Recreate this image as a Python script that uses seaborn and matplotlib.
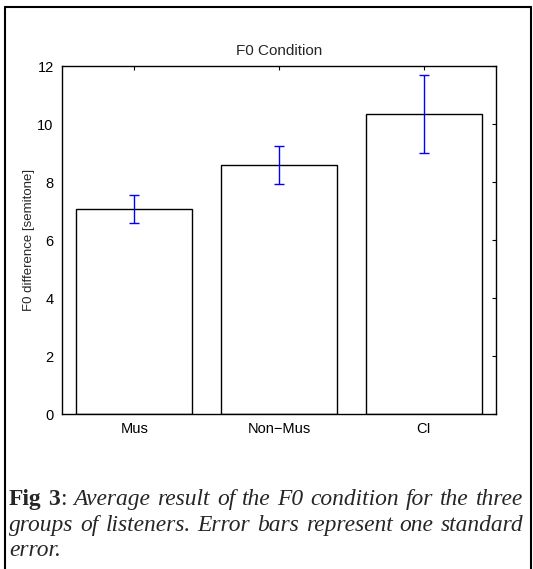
import numpy as np
import pandas as pd
import seaborn as sns
import matplotlib.pyplot as plt
from matplotlib.lines import Line2D

# data
groups = ['Mus', 'Non\u2212Mus', 'CI']
means = [7.07, 8.58, 10.34]
sems = [0.48, 0.66, 1.34]

title = 'F0 Condition'
ylabel = 'F0 difference [semitone]'
caption_lines = [
    [('Fig 3', 'bold', 'normal'), (':', 'normal', 'normal'),
     ('Average result of the F0 condition for the three', 'normal', 'italic')],
    [('groups of listeners. Error bars represent one standard', 'normal', 'italic')],
    [('error.', 'normal', 'italic')],
]

sns.set_style('white')
plt.rcParams['font.family'] = ['Liberation Sans', 'DejaVu Sans']

W, H = 533, 569
fig = plt.figure(figsize=(W / 100, H / 100), dpi=100)
ax = fig.add_axes([62 / W, 1 - 414 / H, (496 - 62) / W, (414 - 66) / H])

df = pd.DataFrame({'group': groups, 'mean': means, 'sem': sems})
sns.barplot(data=df, x='group', y='mean', color='white', edgecolor='black',
            linewidth=1.0, width=0.8, errorbar=None, saturation=1, ax=ax)
ax.errorbar(np.arange(len(groups)), df['mean'], yerr=df['sem'], fmt='none',
            ecolor='blue', elinewidth=1.0, capsize=3.5, capthick=1.0, zorder=3)

ax.set_xlim(-0.5, 2.5)
ax.set_ylim(0, 12)
ax.set_yticks(range(0, 13, 2))
ax.set_xlabel('')
ax.set_ylabel(ylabel, fontsize=9.5, labelpad=2)
ax.set_title(title, fontsize=11, pad=8)
ax.set_axisbelow(True)
ax.tick_params(direction='in', length=3, width=0.8, top=True, right=True,
               labelsize=10.5, colors='black')
ax.tick_params(axis='x', pad=6)
ax.tick_params(axis='y', pad=6)
for s in ax.spines.values():
    s.set_visible(True)
    s.set_color('black')
    s.set_linewidth(1.0)

# outer frame of the figure panel
for xs, ys in [([5, 5], [0, H - 7]), ([5, 531], [H - 7, H - 7]), ([531, 531], [0, H - 7])]:
    fig.add_artist(Line2D([x / W for x in xs], [y / H for y in ys], color='black', lw=1.5))

# justified caption
fig.canvas.draw()
renderer = fig.canvas.get_renderer()
x0, x1 = 9, 523
line_y = [500, 526, 551]


def make_words(segs, size):
    out = []
    for txt, weight, style in segs:
        for k, p in enumerate(txt.split(' ')):
            t = fig.text(0, 0, p, fontsize=size, fontweight=weight, fontstyle=style,
                         family=['Liberation Serif', 'DejaVu Serif'], va='baseline', ha='left')
            out.append((t, k == 0 and txt == ':'))
    return out


# pick the caption size so the longest line just fills the column
probe = []
for segs in caption_lines:
    ws = make_words(segs, 10)
    sp = fig.text(0, 0, 'a a', fontsize=10, family=['Liberation Serif']).get_window_extent(renderer).width \
        - 2 * fig.text(0, 0, 'a', fontsize=10, family=['Liberation Serif']).get_window_extent(renderer).width
    tot = sum(t.get_window_extent(renderer).width for t, _ in ws) + sp * sum(1 for _, g in ws[1:] if not g)
    probe.append(tot)
for t in list(fig.texts):
    t.remove()
cap_size = 10 * (x1 - x0 - 4) / max(probe)

for li, (segs, yc) in enumerate(zip(caption_lines, line_y)):
    artists = make_words(segs, cap_size)
    widths = [t.get_window_extent(renderer).width for t, _ in artists]
    ngaps = sum(1 for _, glue in artists[1:] if not glue)
    space = cap_size * 1.39 * 0.25
    if li < len(caption_lines) - 1 and ngaps:
        space = (x1 - x0 - sum(widths)) / ngaps
    x = x0
    for (t, glue), wd in zip(artists, widths):
        if glue:
            x -= space
        t.set_position((x / W, 1 - (yc + 5) / H))
        x += wd + space

fig.savefig('out.png', dpi=100)
